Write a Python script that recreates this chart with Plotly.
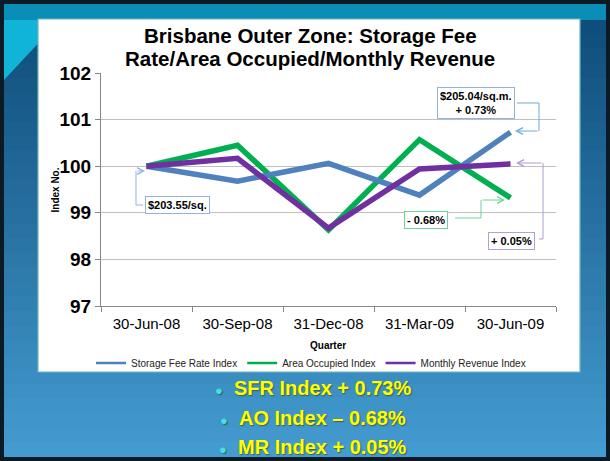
import plotly.graph_objects as go

# quarters and index values (base 100 at 30-Jun-08)
quarters = ["30-Jun-08", "30-Sep-08", "31-Dec-08", "31-Mar-09", "30-Jun-09"]
sfr_index = [100.0, 99.68, 100.06, 99.38, 100.73]
ao_index = [100.0, 100.45, 98.63, 100.57, 99.32]
mr_index = [100.0, 100.17, 98.67, 99.94, 100.05]

series_names = ["Storage Fee Rate Index", "Area Occupied Index", "Monthly Revenue Index"]
bullets = ["SFR Index + 0.73%", "AO Index \u2013 0.68%", "MR Index + 0.05%"]

BLUE = "#4F81BD"
GREEN = "#00B050"
PURPLE = "#7030A0"
FONT = "Arial, Liberation Sans, sans-serif"

W, H = 610, 461
L, R, T, B = 101, 556, 73, 306   # plot area in pixels


def xp(px):
    return (px - L) / (R - L)


def yp(py):
    return (B - py) / (B - T)


fig = go.Figure()

# draw green first so blue and purple sit on top like the original
for name, vals, col in [(series_names[1], ao_index, GREEN),
                        (series_names[0], sfr_index, BLUE),
                        (series_names[2], mr_index, PURPLE)]:
    fig.add_trace(go.Scatter(x=list(range(len(quarters))), y=vals, mode="lines", name=name,
                             line=dict(color=col, width=5.5), showlegend=False))

# thin legend entries
for name, col in zip(series_names, [BLUE, GREEN, PURPLE]):
    fig.add_trace(go.Scatter(x=[None], y=[None], mode="lines", name=name,
                             line=dict(color=col, width=2.5)))

shapes = []


def hex2rgb(h):
    h = h.lstrip("#")
    return tuple(int(h[i:i + 2], 16) for i in (0, 2, 4))


# slide background: vertical blue gradient
c0, c1 = hex2rgb("#0F4E7B"), hex2rgb("#449BD0")
n = 30
y_top, y_bot = 19, 457
for i in range(n):
    t = i / (n - 1)
    c = tuple(int(a + (b - a) * t) for a, b in zip(c0, c1))
    ya = y_top + (y_bot - y_top) * i / n
    yb = y_top + (y_bot - y_top) * (i + 1) / n + 1
    shapes.append(dict(type="rect", xref="paper", yref="paper", layer="below",
                       x0=xp(4), x1=xp(606), y0=yp(ya), y1=yp(min(yb, y_bot)),
                       fillcolor="rgb(%d,%d,%d)" % c, line_width=0))
# teal band at the top and cyan wedge at top-left
shapes.append(dict(type="rect", xref="paper", yref="paper", layer="below",
                   x0=xp(4), x1=xp(606), y0=yp(4), y1=yp(20),
                   fillcolor="#0A8DB6", line_width=0))
shapes.append(dict(type="path", xref="paper", yref="paper", layer="below",
                   path="M %f,%f L %f,%f L %f,%f Z" % (xp(4), yp(20), xp(60), yp(20), xp(4), yp(80)),
                   fillcolor="#10B4D6", line_width=0))
# white chart box
shapes.append(dict(type="rect", xref="paper", yref="paper", layer="below",
                   x0=xp(38), x1=xp(580), y0=yp(19), y1=yp(372),
                   fillcolor="white", line=dict(color="#6FB7BC", width=1.2)))

# elbow connectors from the call-out boxes
connectors = [
    ([(143, 205), (136, 205), (136, 171)], (145, 171), "#8EB4E3"),
    ([(517, 103), (539, 103), (539, 131)], (515, 131), "#6FA8DC"),
    ([(455, 218), (481, 218), (481, 200)], (505, 200), "#6CD49A"),
    ([(539, 239), (543, 239), (543, 163)], (516, 163), "#B09AD6"),
]
annotations = []
for pts, tip, col in connectors:
    path = "M " + " L ".join("%f,%f" % (xp(a), yp(b)) for a, b in pts)
    shapes.append(dict(type="path", xref="paper", yref="paper", path=path,
                       line=dict(color=col, width=1)))
    tail = pts[-1]
    annotations.append(dict(xref="paper", yref="paper", x=xp(tip[0]), y=yp(tip[1]), text="",
                            showarrow=True, arrowhead=5, arrowsize=1.3, arrowwidth=1,
                            arrowcolor=col, ax=tail[0] - tip[0], ay=tail[1] - tip[1],
                            standoff=0))

callouts = [
    ("$203.55/sq.", 177.5, 205, "#95B3D7"),
    ("$205.04/sq.m.<br>+ 0.73%", 476, 103, "#8EB4E3"),
    ("- 0.68%", 426, 220, "#6CD49A"),
    ("+ 0.05%", 511, 241, "#B4A0D6"),
]
for txt, cx, cy, col in callouts:
    annotations.append(dict(xref="paper", yref="paper", x=xp(cx), y=yp(cy), text="<b>%s</b>" % txt,
                            showarrow=False, xanchor="center", yanchor="middle",
                            font=dict(family=FONT, size=11, color="black"),
                            bgcolor="white", bordercolor=col, borderwidth=1, borderpad=2))

# title, two lines
annotations.append(dict(xref="paper", yref="paper", x=xp(310), y=yp(36), showarrow=False,
                        text="<b>Brisbane Outer Zone: Storage Fee</b>", yanchor="middle",
                        font=dict(family=FONT, size=20.5, color="black")))
annotations.append(dict(xref="paper", yref="paper", x=xp(310), y=yp(59), showarrow=False,
                        text="<b>Rate/Area Occupied/Monthly Revenue</b>", yanchor="middle",
                        font=dict(family=FONT, size=20.5, color="black")))

# axis titles
annotations.append(dict(xref="paper", yref="paper", x=xp(47), y=yp(190), showarrow=False,
                        text="<b>Index No.</b>", textangle=-90,
                        font=dict(family=FONT, size=10, color="black")))
annotations.append(dict(xref="paper", yref="paper", x=xp(328), y=yp(345), showarrow=False,
                        text="<b>Quarter</b>", yanchor="middle",
                        font=dict(family=FONT, size=10, color="black")))

# bullet points below the chart
for i, txt in enumerate(bullets):
    annotations.append(dict(xref="paper", yref="paper", x=xp(313), y=yp(388 + 29.5 * i),
                            showarrow=False, yanchor="middle",
                            text="<span style='color:#3FE0E8;font-size:13px'>\u25CF</span>  <b>%s</b>" % txt,
                            font=dict(family=FONT, size=20, color="#FFFF00",
                                      shadow="1px 1px 1px rgba(60,60,0,0.6)")))

fig.update_layout(
    width=W, height=H,
    margin=dict(l=L, r=W - R, t=T, b=H - B),
    paper_bgcolor="#0B1A25",
    plot_bgcolor="rgba(0,0,0,0)",
    font=dict(family=FONT, color="black"),
    shapes=shapes,
    annotations=annotations,
    legend=dict(orientation="h", x=xp(311), xanchor="center", y=yp(363), yanchor="middle",
                font=dict(family=FONT, size=10, color="#222"), bgcolor="rgba(0,0,0,0)",
                itemwidth=30, traceorder="normal"),
    xaxis=dict(range=[-0.5, 4.5], tickmode="array", tickvals=list(range(len(quarters))),
               ticktext=quarters, showgrid=False, zeroline=False, showline=True,
               linecolor="#868686", ticks="", tickfont=dict(size=15, color="black"),
               ticklabelstandoff=4,
               minor=dict(ticks="outside", tick0=-0.5, dtick=1, ticklen=5, tickcolor="#868686",
                          showgrid=False)),
    yaxis=dict(range=[97, 102], dtick=1, showgrid=True, gridcolor="#BFBFBF", zeroline=False,
               showline=True, linecolor="#868686", ticks="outside", ticklen=5,
               tickcolor="#868686", tickfont=dict(size=19, color="black", weight="bold")),
)

# the page's default body margin would push the 610x461 figure out of the window
fig.write_html("out.html", config={"displayModeBar": False},
               post_script="document.body.style.margin='0px';")
